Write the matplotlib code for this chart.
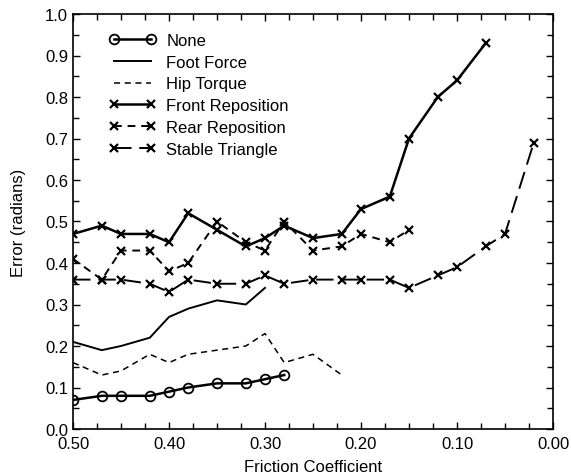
import matplotlib
matplotlib.use("Agg")
import matplotlib.pyplot as plt
from matplotlib.ticker import MultipleLocator, FormatStrFormatter

plt.rcParams['font.family'] = ['Liberation Sans', 'DejaVu Sans']

none_x = [0.50, 0.47, 0.45, 0.42, 0.40, 0.38, 0.35, 0.32, 0.30, 0.28]
none_y = [0.07, 0.08, 0.08, 0.08, 0.09, 0.10, 0.11, 0.11, 0.12, 0.13]

foot_x = [0.50, 0.47, 0.45, 0.42, 0.40, 0.38, 0.35, 0.32, 0.30]
foot_y = [0.21, 0.19, 0.20, 0.22, 0.27, 0.29, 0.31, 0.30, 0.34]

hip_x = [0.50, 0.47, 0.45, 0.42, 0.40, 0.38, 0.35, 0.32, 0.30, 0.28, 0.25, 0.22]
hip_y = [0.16, 0.13, 0.14, 0.18, 0.16, 0.18, 0.19, 0.20, 0.23, 0.16, 0.18, 0.13]

front_x = [0.50, 0.47, 0.45, 0.42, 0.40, 0.38, 0.35, 0.32, 0.30, 0.28, 0.25,
           0.22, 0.20, 0.17, 0.15, 0.12, 0.10, 0.07]
front_y = [0.47, 0.49, 0.47, 0.47, 0.45, 0.52, 0.48, 0.44, 0.46, 0.49, 0.46,
           0.47, 0.53, 0.56, 0.70, 0.80, 0.84, 0.93]

rear_x = [0.50, 0.47, 0.45, 0.42, 0.40, 0.38, 0.35, 0.32, 0.30, 0.28, 0.25,
          0.22, 0.20, 0.17, 0.15]
rear_y = [0.41, 0.36, 0.43, 0.43, 0.38, 0.40, 0.50, 0.45, 0.43, 0.50, 0.43,
          0.44, 0.47, 0.45, 0.48]

stable_x = [0.50, 0.47, 0.45, 0.42, 0.40, 0.38, 0.35, 0.32, 0.30, 0.28, 0.25,
            0.22, 0.20, 0.17, 0.15, 0.12, 0.10, 0.07, 0.05, 0.02]
stable_y = [0.36, 0.36, 0.36, 0.35, 0.33, 0.36, 0.35, 0.35, 0.37, 0.35, 0.36,
            0.36, 0.36, 0.36, 0.34, 0.37, 0.39, 0.44, 0.47, 0.69]

x_ticks = [0.50, 0.40, 0.30, 0.20, 0.10, 0.00]

fig = plt.figure(figsize=(5.71, 4.77), dpi=100)
ax = fig.add_axes([73/571, 47/477, 480/571, 415/477])

k = 'black'
ax.plot(none_x, none_y, color=k, lw=1.8, marker='o', ms=7, mfc='none', mew=1.3, label='None')
ax.plot(foot_x, foot_y, color=k, lw=1.4, label='Foot Force')
ax.plot(hip_x, hip_y, color=k, lw=1.1, dashes=(4, 3), label='Hip Torque')
ax.plot(front_x, front_y, color=k, lw=1.8, marker='x', ms=6, mew=1.6, label='Front Reposition')
ax.plot(rear_x, rear_y, color=k, lw=1.4, dashes=(4, 3), marker='x', ms=6, mew=1.6, label='Rear Reposition')
ax.plot(stable_x, stable_y, color=k, lw=1.4, dashes=(9, 4), marker='x', ms=6, mew=1.6, label='Stable Triangle')

ax.set_xlim(0.50, 0.00)
ax.set_ylim(0.0, 1.0)
ax.set_xticks(x_ticks)
ax.xaxis.set_major_formatter(FormatStrFormatter('%.2f'))
ax.xaxis.set_minor_locator(MultipleLocator(0.025))
ax.yaxis.set_major_locator(MultipleLocator(0.1))
ax.yaxis.set_major_formatter(FormatStrFormatter('%.1f'))
ax.yaxis.set_minor_locator(MultipleLocator(0.05))
ax.tick_params(which='both', direction='in', top=True, right=True, labelsize=12, colors='black')
ax.tick_params(which='major', length=5, width=1)
ax.tick_params(which='minor', length=4, width=1)
ax.tick_params(axis='x', pad=5)
for s in ax.spines.values():
    s.set_linewidth(1.2)

ax.set_xlabel('Friction Coefficient', fontsize=12, labelpad=6)
ax.set_ylabel('Error (radians)', fontsize=12, labelpad=14)

ax.legend(loc='upper left', bbox_to_anchor=(0.075, 0.955), frameon=False,
          fontsize=12, handlelength=2.8, handletextpad=0.65, labelspacing=0.41,
          borderpad=0, borderaxespad=0, numpoints=2)

fig.savefig('out.png', dpi=100)
